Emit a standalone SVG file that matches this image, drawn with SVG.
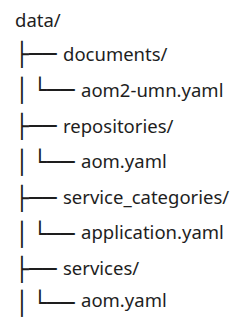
<svg xmlns="http://www.w3.org/2000/svg" width="252" height="317" viewBox="0 0 252 317">
<style>
.name{font-family:"Noto Sans","Open Sans",sans-serif;font-size:18.5px;fill:#1e1e1e}
.tree{font-family:"DejaVu Sans Mono",monospace;font-size:23px;fill:#1e1e1e}
</style>
<rect width="252" height="317" fill="#ffffff"/>
<g id="connectors">
<text class="tree" x="15.1" y="61.9">├──</text>
<text class="tree" x="15.1" y="98">│</text>
<text class="tree" x="33.1" y="98">└──</text>
<text class="tree" x="15.1" y="134">├──</text>
<text class="tree" x="15.1" y="170">│</text>
<text class="tree" x="33.1" y="170">└──</text>
<text class="tree" x="15.1" y="205.8">├──</text>
<text class="tree" x="15.1" y="241.8">│</text>
<text class="tree" x="33.1" y="241.8">└──</text>
<text class="tree" x="15.1" y="277.4">├──</text>
<text class="tree" x="15.1" y="311.2">│</text>
<text class="tree" x="33.1" y="311.2">└──</text>
</g>
<g id="data"><text class="name" x="15" y="26.7">data/</text></g>
<g id="documents"><text class="name" x="63" y="61.3">documents/</text></g>
<g id="aom2-umn"><text class="name" x="81" y="97.2">aom2-umn.yaml</text></g>
<g id="repositories"><text class="name" x="63" y="132.8">repositories/</text></g>
<g id="repositories-aom"><text class="name" x="81" y="168.3">aom.yaml</text></g>
<g id="service_categories"><text class="name" x="63" y="203.9">service_categories/</text></g>
<g id="application"><text class="name" x="81" y="239.4">application.yaml</text></g>
<g id="services"><text class="name" x="63" y="274.9">services/</text></g>
<g id="services-aom"><text class="name" x="81" y="306.8">aom.yaml</text></g>
</svg>
